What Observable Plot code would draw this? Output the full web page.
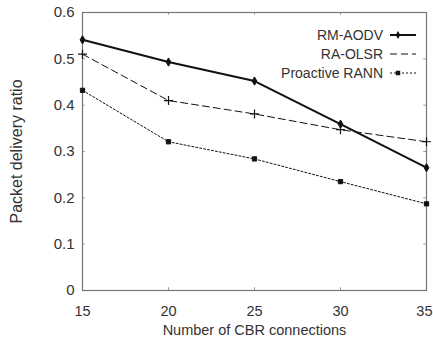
<!DOCTYPE html>
<html><head><meta charset="utf-8">
<script src="https://cdn.jsdelivr.net/npm/d3@7"></script>
<script src="https://cdn.jsdelivr.net/npm/@observablehq/plot@0.6"></script>
<style>
body{margin:0;background:#fff;font-family:"Liberation Sans",Arial,sans-serif;}
#wrap{position:relative;width:433px;height:342px;}
#legend{position:absolute;left:0;top:0;}
</style></head>
<body><div id="wrap"></div>
<script>
const connections = [15, 20, 25, 30, 35];
const rmAodv = [0.541, 0.493, 0.452, 0.359, 0.265];
const raOlsr = [0.510, 0.410, 0.381, 0.347, 0.321];
const rann = [0.432, 0.321, 0.284, 0.235, 0.187];
const seriesNames = ["RM-AODV", "RA-OLSR", "Proactive RANN"];
const yTicks = [0, 0.1, 0.2, 0.3, 0.4, 0.5, 0.6];
const xTicks = [15, 20, 25, 30, 35];

const values = [rmAodv, raOlsr, rann];
const rows = [];
seriesNames.forEach((s, i) => connections.forEach((c, j) => rows.push({series: s, x: c, y: values[i][j]})));

const styles = {
  "RM-AODV": {strokeWidth: 2, dash: null, symbol: "diamond", r: 2.5},
  "RA-OLSR": {strokeWidth: 1, dash: "7,4", symbol: "plus", r: 3},
  "Proactive RANN": {strokeWidth: 1, dash: "2,2", symbol: "square", r: 2.4}
};

const xMin = xTicks[0], xMax = xTicks[xTicks.length - 1];
const yMin = yTicks[0], yMax = yTicks[yTicks.length - 1];
const innerX = xTicks.slice(1, -1), innerY = yTicks.slice(1, -1);
const tickStyle = {stroke: "#999", strokeWidth: 1};

const marks = [];
seriesNames.forEach(s => {
  const d = rows.filter(r => r.series === s);
  const st = styles[s];
  marks.push(Plot.line(d, {x: "x", y: "y", stroke: "#111", strokeWidth: st.strokeWidth, strokeDasharray: st.dash}));
  marks.push(Plot.dot(d, {x: "x", y: "y", symbol: st.symbol, r: st.r, fill: "#111", stroke: "#111", strokeWidth: st.symbol === "plus" ? 1.2 : 1}));
});

const chart = Plot.plot({
  width: 433, height: 342,
  marginLeft: 82, marginRight: 7, marginTop: 12, marginBottom: 52,
  style: {fontFamily: "Liberation Sans, Arial, sans-serif", fontSize: "14px", color: "#333", background: "#fff"},
  x: {type: "linear", domain: [xMin, xMax]},
  y: {type: "linear", domain: [yMin, yMax]},
  marks: [
    Plot.ruleY(innerY, {y: d => d, x1: xMin, x2: xMin + 0.16, ...tickStyle}),
    Plot.ruleY(innerY, {y: d => d, x1: xMax, x2: xMax - 0.16, ...tickStyle}),
    Plot.ruleX(innerX, {x: d => d, y1: yMin, y2: yMin + 0.006, ...tickStyle}),
    Plot.ruleX(innerX, {x: d => d, y1: yMax, y2: yMax - 0.006, ...tickStyle}),
    Plot.frame({stroke: "#777", strokeWidth: 1.2}),
    ...marks,
    Plot.axisX({ticks: xTicks.slice(0, -1), tickSize: 0, tickPadding: 15, fontSize: 14.5, label: "Number of CBR connections", labelAnchor: "center", labelArrow: "none", labelOffset: 44, fill: "#333"}),
    Plot.axisX({ticks: [xMax], tickSize: 0, tickPadding: 15, fontSize: 14.5, textAnchor: "end", dx: 6, label: null, fill: "#333"}),
    Plot.axisY({ticks: yTicks, tickSize: 0, tickPadding: 8, fontSize: 15, tickFormat: d => d === 0 ? "0" : String(d), label: null, fill: "#333"}),
    Plot.axisY({ticks: [], tickSize: 0, label: "Packet delivery ratio", labelAnchor: "center", labelArrow: "none", labelOffset: 72, fontSize: 16, dy: 10, fill: "#333"})
  ]
});
document.getElementById("wrap").appendChild(chart);

// Legend overlay
const legendY = [35, 54, 73];
const lg = d3.create("svg").attr("id", "legend").attr("width", 433).attr("height", 342)
  .style("font-family", "Liberation Sans, Arial, sans-serif").style("font-size", "14px");
seriesNames.forEach((s, i) => {
  const st = styles[s];
  const g = lg.append("g").attr("transform", `translate(0,${legendY[i]})`);
  g.append("text").attr("x", 383).attr("y", 0).attr("dy", "0.35em").attr("text-anchor", "end").attr("fill", "#333").text(s);
  g.append("line").attr("x1", 390).attr("x2", 416).attr("y1", 0).attr("y2", 0)
    .attr("stroke", "#111").attr("stroke-width", st.strokeWidth).attr("stroke-dasharray", st.dash);
  const sym = d3.symbol().type(st.symbol === "plus" ? d3.symbolPlus : st.symbol === "square" ? d3.symbolSquare : d3.symbolDiamond)
    .size(st.symbol === "plus" ? 26 : st.symbol === "square" ? 20 : 18);
  g.append("path").attr("d", sym()).attr("transform", "translate(398,0)").attr("fill", "#111");
});
document.getElementById("wrap").appendChild(lg.node());
</script></body></html>
